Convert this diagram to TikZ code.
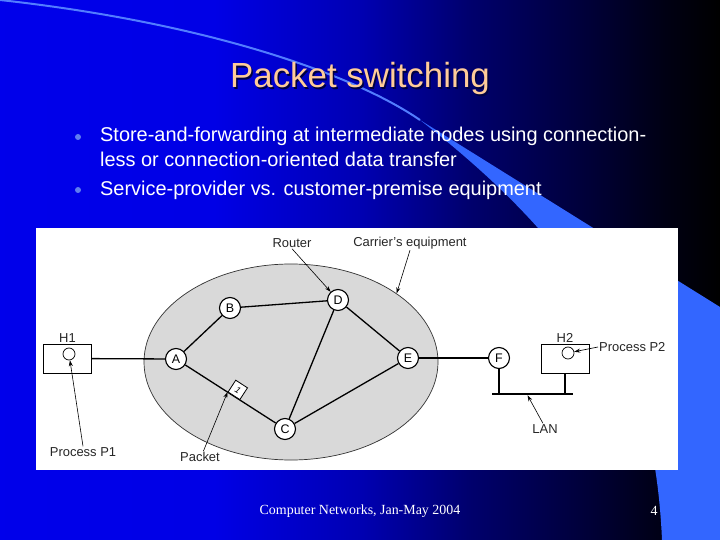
\documentclass[tikz,border=0pt]{standalone}
\usepackage{fontspec}
\setmainfont{Liberation Sans}
\newfontfamily\footfont{Liberation Serif}
\usetikzlibrary{arrows.meta}
\usetikzlibrary{shapes.geometric}
\usetikzlibrary{positioning}
\usetikzlibrary{calc}
\definecolor{swoosh}{RGB}{51,102,255}
\definecolor{titlepeach}{RGB}{255,204,153}
\definecolor{bulletblue}{RGB}{95,125,240}
\definecolor{cloudgray}{gray}{0.85}
\pgfdeclarehorizontalshading{slidebg}{100bp}{rgb(0bp)=(0,0,.92); rgb(25bp)=(0,0,.92); rgb(40bp)=(0,0,.9); rgb(50bp)=(0,0,.7); rgb(57.5bp)=(0,0,.43); rgb(65bp)=(0,0,.24); rgb(71bp)=(0,0,.08); rgb(75bp)=(0,0,0); rgb(100bp)=(0,0,0)}

\begin{document}
\begin{tikzpicture}[x=1bp,y=-1bp]
  \tikzset{router/.style={circle,draw,line width=1.1bp,fill=white,inner sep=0pt,minimum size=21bp,font=\fontsize{12.5}{12.5}\selectfont},
           hostbox/.style={draw,line width=0.8bp,fill=white,minimum width=48bp,minimum height=29bp,inner sep=0pt},
           proc/.style={circle,draw,line width=0.7bp,inner sep=0pt,minimum size=12bp},
           packet/.style={draw,line width=0.8bp,fill=white,rotate=-33,minimum size=14bp,inner sep=0pt,font=\fontsize{9}{9}\selectfont\itshape},
           lbl/.style={font=\fontsize{13}{13}\selectfont,text=black!85,inner sep=1bp},
           item/.style={font=\fontsize{20}{20}\selectfont,text=white,inner sep=0pt},
           link/.style={line width=1.3bp},
           pointer/.style={-{Stealth[length=6bp,width=4bp]},line width=0.6bp}}
  \useasboundingbox (0,0) rectangle (720,540);
  \shade[shading=slidebg] (0,0) rectangle (720,540);
  \draw[swoosh!85!white,line width=2bp] (0,0) .. controls (200,22) and (350,72) .. (420,120);
  \fill[swoosh] (420,120) -- (720,307) -- (720,540) -- (662,540) .. controls (655,380) and (600,260) .. (420,120) -- cycle;

  \node[anchor=base,font=\fontsize{35}{35}\selectfont,text=black!75!blue] (titleshadow) at (361.5,89.5) {Packet switching};
  \node[anchor=base,font=\fontsize{35}{35}\selectfont,text=titlepeach] (title) at (360,88) {Packet switching};

  \fill[bulletblue] (78,137) circle (3);
  \node[item,anchor=base west] (item1) at (100,142) {Store-and-forwarding at intermediate nodes using connection-};
  \node[item,anchor=base west] (item1b) at (100,167) {less or connection-oriented data transfer};
  \fill[bulletblue] (78,190) circle (3);
  \node[item,anchor=base west] (item2) at (100,196) {Service-provider vs. customer-premise equipment};

  \fill[white] (36,228) rectangle (678,470);
  \node[ellipse,draw=black!80,line width=0.7bp,fill=cloudgray,minimum width=294bp,minimum height=196bp,inner sep=0pt] (net) at (291,362) {};

  \node[router] (A) at (176,359) {A};
  \node[router] (B) at (230,308) {B};
  \node[router] (D) at (338,300) {D};
  \node[router] (C) at (285,429) {C};
  \node[router] (E) at (408,358) {E};
  \node[router] (F) at (499,358) {F};
  \node[hostbox] (h1) at (67.5,358.5) {};
  \node[proc] (p1) at (69,354) {};
  \node[hostbox] (h2) at (565,358.5) {};
  \node[proc] (p2) at (568,353) {};
  \node[lbl,above=0bp of h1] (h1lbl) {H1};
  \node[lbl,above=0bp of h2] (h2lbl) {H2};

  \draw[link] (h1) -- (A);
  \draw[link] (A) -- (B);
  \draw[link] (B) -- (D);
  \draw[link] (D) -- (E);
  \draw[link] (D) -- (C);
  \draw[link] (A) -- (C);
  \draw[link] (C) -- (E);
  \draw[link] (E) -- (F);
  \coordinate (busl) at (492,394);
  \coordinate (busr) at (573,394);
  \draw[link] (busl) -- (busr);
  \draw[link] (F) -- (F |- busl);
  \draw[link] (h2) -- (h2 |- busl);
  \node[packet,anchor=south] (pkt) at ($(A)!0.53!(C)$) {1};

  \node[lbl] (routerlbl) at (292,243) {Router};
  \node[lbl] (carrierlbl) at (410,243) {Carrier's equipment};
  \node[lbl] (p1lbl) at (83,452) {Process P1};
  \node[lbl] (pktlbl) at (200,457) {Packet};
  \node[lbl,anchor=west] (p2lbl) at (598,347) {Process P2};
  \node[lbl] (lanlbl) at (545,429) {LAN};
  \coordinate (lanhit) at ($(busl)!0.43!(busr)$);
  \draw[pointer] (routerlbl.south) -- (D);
  \draw[pointer] (carrierlbl.south) -- (net.33);
  \draw[pointer] (p1lbl.north) -- (p1);
  \draw[pointer] (pktlbl.60) -- (pkt.south west);
  \draw[pointer] (p2lbl.west) -- (p2);
  \draw[pointer,shorten >=1.5bp] (lanlbl.110) -- (lanhit);

  \node[text=white,font=\footfont\fontsize{14}{14}\selectfont] (footer) at (360,511) {Computer Networks, Jan-May 2004};
  \node[text=white,font=\footfont\fontsize{14}{14}\selectfont] (pageno) at (654,511) {4};
\end{tikzpicture}
\end{document}
